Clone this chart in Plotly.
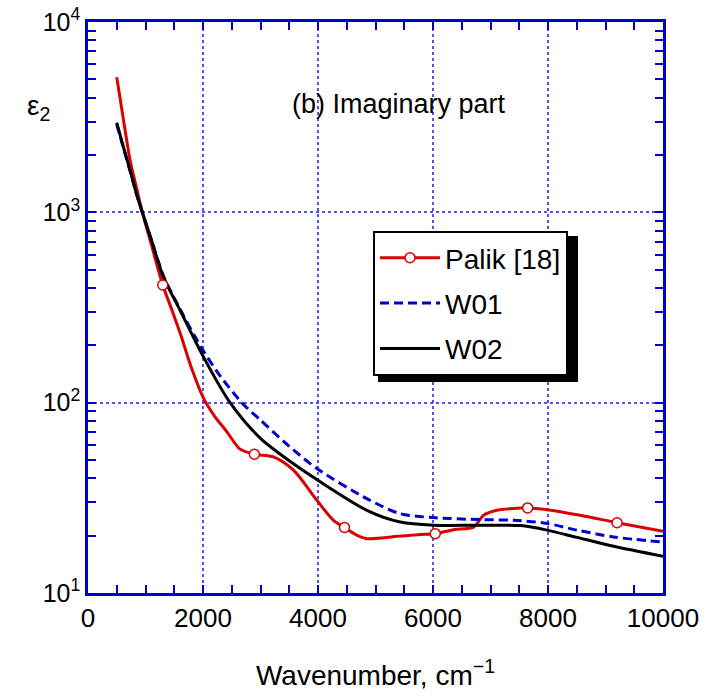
import plotly.graph_objects as go

# ---- data ----
palik_x = [500, 600, 731, 850, 945, 1100, 1300, 1450, 1602, 1800, 2000, 2200, 2413, 2645,
           2894, 3225, 3573, 3980, 4269, 4461, 4650, 4850, 5430, 5778, 6039, 6357, 6706,
           6880, 7112, 7400, 7646, 7983, 8562, 9201, 10000]
palik_y = [5130, 3300, 1884, 1320, 1000, 680, 415, 312, 232, 152, 107, 85, 70.5, 57,
           53.6, 51.9, 44.2, 30.7, 24.1, 22.1, 20.3, 19.3, 19.9, 20.3, 20.5, 21.5, 22.2,
           25.6, 27.2, 27.8, 28.0, 27.4, 25.6, 23.4, 21.1]
palik_mark_x = [1300, 2894, 4461, 6039, 7646, 9201]
palik_mark_y = [415, 53.6, 22.1, 20.5, 28.0, 23.4]

w01_x = [500, 600, 731, 850, 945, 1100, 1311, 1601, 1978, 2300, 2675, 3000, 3500, 3980,
         4850, 5430, 6010, 6822, 7402, 7983, 8500, 9142, 10000]
w01_y = [2900, 2270, 1650, 1230, 1000, 720, 465, 310, 193, 138, 100, 80.9, 59, 45.1,
         31.3, 26.1, 24.9, 24.3, 24.1, 23.2, 21.4, 19.7, 18.5]

w02_x = [500, 600, 731, 850, 945, 1100, 1311, 1601, 2007, 2471, 3000, 3500, 4000, 4850,
         5430, 6010, 6822, 7518, 7983, 8500, 9142, 10000]
w02_y = [2960, 2290, 1667, 1230, 1000, 720, 458, 306, 174, 100, 64.9, 49.5, 39.1, 27.2,
         23.6, 22.7, 22.7, 22.6, 21.4, 19.6, 17.6, 15.6]

series_names = ["Palik [18]", "W01", "W02"]
x_tickvals = [0, 2000, 4000, 6000, 8000, 10000]
y_tickvals = [10, 100, 1000, 10000]
y_ticktext = ["10<sup>1</sup>", "10<sup>2</sup>", "10<sup>3</sup>", "10<sup>4</sup>"]

FONT = "Liberation Sans, Arial, sans-serif"
BLUE = "#0000cc"
RED = "#dd0000"

fig = go.Figure()

fig.add_trace(go.Scatter(x=palik_x, y=palik_y, mode="lines", showlegend=False,
                         line=dict(color=RED, width=3, shape="spline", smoothing=0.8)))
fig.add_trace(go.Scatter(x=w01_x, y=w01_y, mode="lines", name=series_names[1],
                         legendgroup="b", legendrank=2,
                         line=dict(color=BLUE, width=3, dash="9px,5px", shape="spline", smoothing=0.8)))
fig.add_trace(go.Scatter(x=w02_x, y=w02_y, mode="lines", name=series_names[2],
                         legendgroup="c", legendrank=3,
                         line=dict(color="black", width=3, shape="spline", smoothing=0.8)))
fig.add_trace(go.Scatter(x=palik_mark_x, y=palik_mark_y, mode="markers", showlegend=False,
                         marker=dict(symbol="circle", size=10, color="white",
                                     line=dict(color=RED, width=1.5))))
fig.add_trace(go.Scatter(x=[None], y=[None], mode="lines+markers", name=series_names[0],
                         legendgroup="a", legendrank=1,
                         line=dict(color=RED, width=3),
                         marker=dict(symbol="circle", size=10, color="white",
                                     line=dict(color=RED, width=1.5))))

axis_common = dict(
    showline=True, linecolor=BLUE, linewidth=2.5, mirror="allticks",
    ticks="inside", ticklen=8, tickwidth=2, tickcolor=BLUE,
    showgrid=True, gridcolor="rgba(40,40,230,0.8)", griddash="dot", gridwidth=1.5,
    zeroline=False, automargin=False,
)

fig.update_xaxes(
    range=[0, 10000], tickvals=x_tickvals, ticktext=[str(v) for v in x_tickvals],
    tickfont=dict(family=FONT, size=26, color="black"),
    title=dict(text="Wavenumber, cm<sup>\u22121</sup>", font=dict(family=FONT, size=28, color="black"),
               standoff=34),
    minor=dict(dtick=500, ticks="inside", ticklen=8, tickwidth=2, tickcolor=BLUE, showgrid=False),
    **axis_common,
)

minor_y = [m * 10 ** k for k in range(1, 4) for m in range(2, 10)]
fig.update_yaxes(
    type="log", range=[1, 4], tickvals=y_tickvals, ticktext=y_ticktext,
    tickfont=dict(family=FONT, size=25, color="black"),
    minor=dict(tickvals=minor_y, ticks="inside", ticklen=8, tickwidth=2, tickcolor=BLUE, showgrid=False),
    **axis_common,
)

fig.add_shape(type="rect", xref="paper", yref="paper",
              x0=(378 - 88) / 575, x1=(578 - 88) / 575,
              y0=1 - (382 - 22) / 571, y1=1 - (236 - 22) / 571,
              fillcolor="black", line=dict(width=0), layer="above")

fig.add_annotation(text="\u03b5<sub>2</sub>", xref="paper", yref="paper",
                   x=(25 - 88) / 575, y=1 - (88 - 22) / 571, showarrow=False,
                   font=dict(family=FONT, size=28, color="black"))
fig.add_annotation(text="(b) Imaginary part", xref="paper", yref="paper",
                   x=(399 - 88) / 575, y=1 - (87 - 22) / 571, showarrow=False,
                   font=dict(family=FONT, size=27, color="black"))

fig.update_layout(
    width=708, height=698,
    margin=dict(l=88, r=45, t=22, b=105),
    paper_bgcolor="white", plot_bgcolor="white",
    showlegend=True,
    legend=dict(x=(373 - 88) / 575, y=1 - (231 - 22) / 571, xanchor="left", yanchor="top",
                bgcolor="white", bordercolor="black", borderwidth=2,
                font=dict(family=FONT, size=28, color="black"),
                traceorder="grouped", tracegroupgap=6, itemwidth=60),
)

fig.write_html("out.html")
